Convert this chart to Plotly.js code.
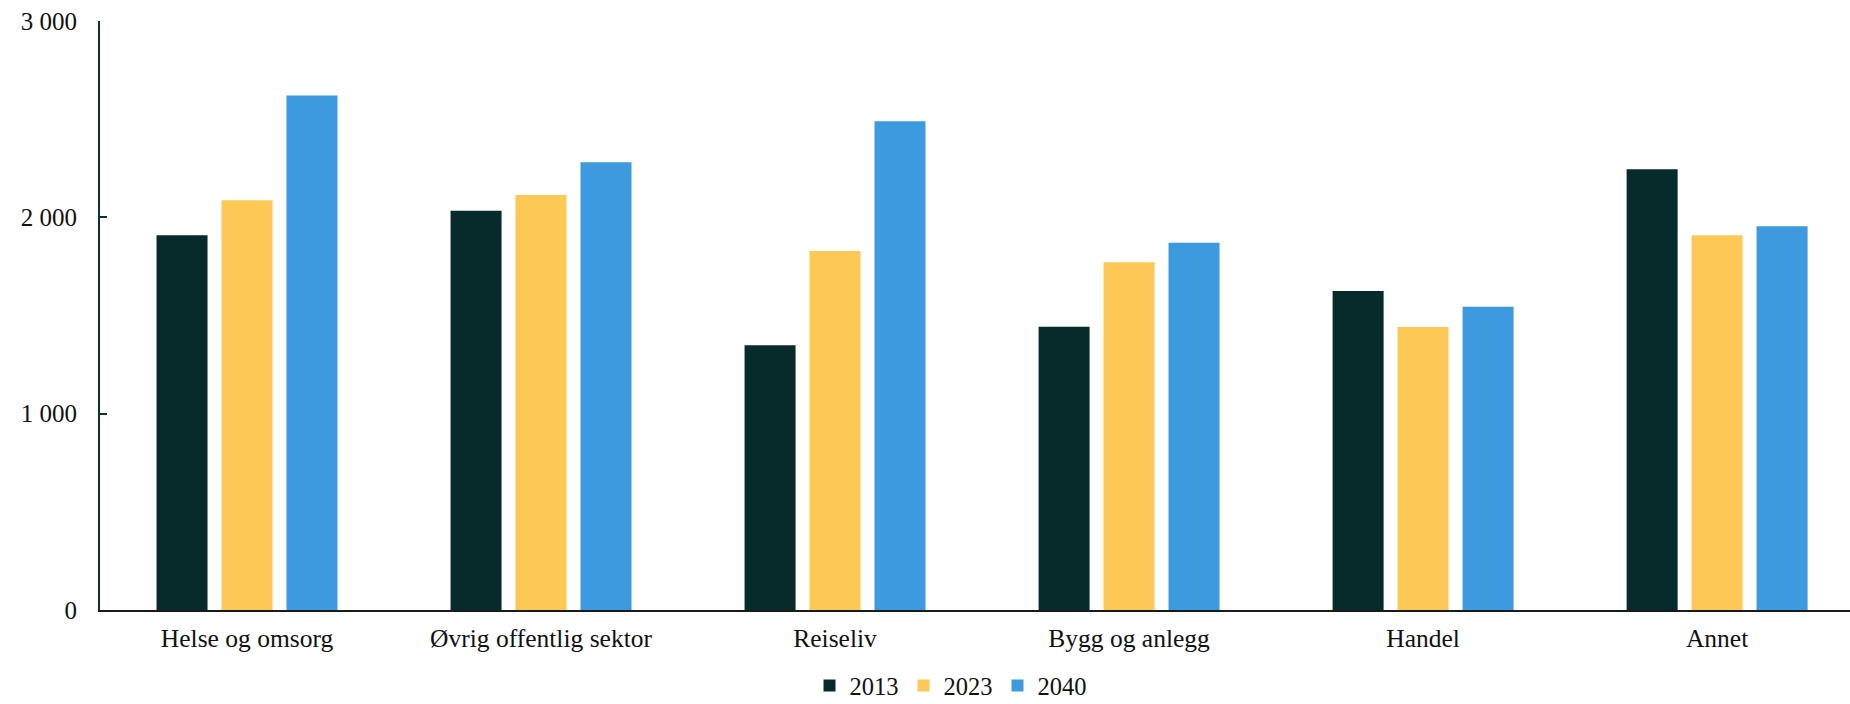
<!DOCTYPE html>
<html>
<head>
<meta charset="utf-8">
<script src="https://cdn.plot.ly/plotly-3.0.1.min.js"></script>
<style>html,body{margin:0;padding:0;background:#fff;}#chart{width:1850px;height:704px;}</style>
</head>
<body>
<div id="chart"></div>
<script>
const categories = ["Helse og omsorg", "Øvrig offentlig sektor", "Reiseliv", "Bygg og anlegg", "Handel", "Annet"];
const seriesNames = ["2013", "2023", "2040"];
const values2013 = [1909, 2033, 1348, 1443, 1625, 2245];
const values2023 = [2087, 2114, 1829, 1771, 1442, 1909];
const values2040 = [2620, 2281, 2490, 1870, 1544, 1955];
const yTickVals = [0, 1000, 2000, 3000];
const yTickText = ["0", "1 000", "2 000", "3 000"];
const colors = ["#072a2a", "#fec856", "#3d9ade"];

const allValues = [values2013, values2023, values2040];
const traces = seriesNames.map((name, i) => ({
  type: "bar",
  name: name,
  x: categories,
  y: allValues[i],
  marker: {color: colors[i], line: {width: 0}},
  hoverinfo: "x+y+name"
}));

const fam = "Liberation Serif, Georgia, serif";
const xFont = {family: fam, size: 25.5, color: "#111111"};
const yFont = {family: fam, size: 25, color: "#111111"};
const legFont = {family: fam, size: 24.5, color: "#111111"};

const layout = {
  width: 1850,
  height: 704,
  margin: {l: 100, r: 0, t: 21, b: 94},
  paper_bgcolor: "#ffffff",
  plot_bgcolor: "#ffffff",
  font: yFont,
  barmode: "group",
  bargap: 0.337,
  bargroupgap: 0.215,
  showlegend: true,
  legend: {
    orientation: "h",
    x: 0.486,
    xanchor: "center",
    yref: "container",
    y: 0.026,
    yanchor: "middle",
    font: legFont,
    itemwidth: 30,
    traceorder: "normal"
  },
  xaxis: {
    type: "category",
    range: [-0.5, 5.452],
    showline: true,
    linecolor: "#1a1a1a",
    linewidth: 2,
    showgrid: false,
    zeroline: false,
    ticks: "",
    tickfont: xFont,
    ticklabelstandoff: 4
  },
  yaxis: {
    range: [0, 3000],
    tickvals: yTickVals,
    ticktext: yTickText,
    showline: true,
    linecolor: "#0b3333",
    linewidth: 2,
    ticks: "inside",
    ticklen: 7,
    tickwidth: 2,
    tickcolor: "#0b3333",
    showgrid: false,
    zeroline: false,
    tickfont: yFont,
    ticklabelstandoff: 16
  }
};

Plotly.newPlot("chart", traces, layout, {displayModeBar: false, staticPlot: true});
</script>
</body>
</html>
